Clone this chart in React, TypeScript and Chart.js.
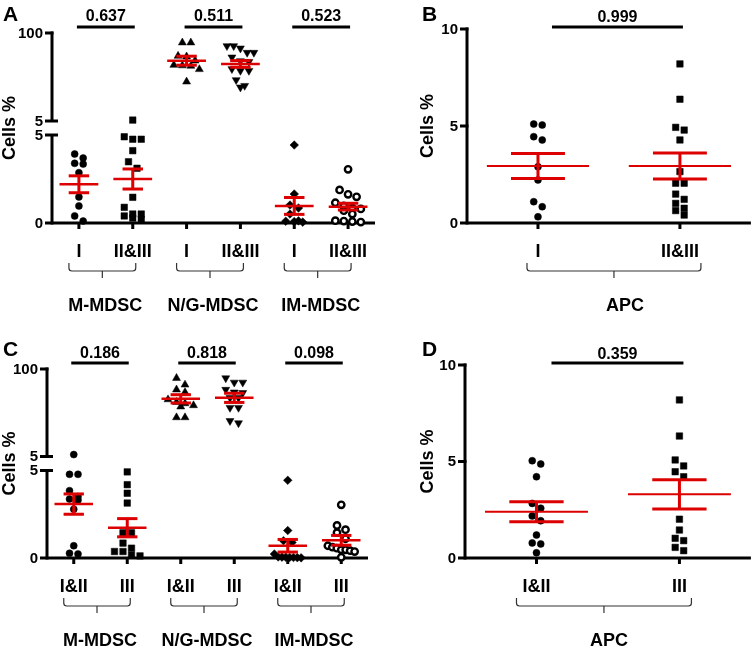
import React, { useEffect, useRef } from 'react';
import { Chart, registerables, LinearScale } from 'chart.js';

const FONT = '"Liberation Sans", Arial, Helvetica, sans-serif';
const RED = '#dd0000';

// ---------------- labels ----------------
const stagesAB = ['I', 'II&III'];
const stagesCD = ['I&II', 'III'];
const mdscSubsets = ['M-MDSC', 'N/G-MDSC', 'IM-MDSC'];
const apcSubsets = ['APC'];
const yTitle = 'Cells %';

const brokenLowerTicks = [0, 5];
const brokenUpperTicks = [5, 100];
const apcTicks = [0, 5, 10];

const mdscMarkers = ['circle', 'square', 'triangle', 'triangleDown', 'diamond', 'ring'];
const apcMarkers = ['circle', 'square'];

// ---------------- Panel A (stage I vs II&III) ----------------
const aMmdscI = [3.92, 3.69, 3.39, 3.35, 2.86, 1.48, 0.97, 0.4, 0.11];
const aMmdscII_III = [6.0, 4.9, 4.76, 4.76, 4.11, 3.48, 3.11, 1.46, 0.89, 0.51, 0.51, 0.4, 0.28, 0.21];
const aNgMdscI = [89.6, 89.6, 75.2, 74.5, 70.1, 65.4, 64.9, 64.4, 60.8, 47.4];
const aNgMdscII_III = [86, 86, 83.5, 78.8, 78.8, 73.8, 69.8, 69.0, 61.2, 59.3, 59.3, 49.3, 43.1, 41.4];
const aImMdscI = [4.43, 1.65, 1.02, 0.85, 0.51, 0.12, 0.1, 0.08, 0.05];
const aImMdscII_III = [3.05, 1.88, 1.63, 1.49, 1.15, 0.97, 0.85, 0.8, 0.7, 0.51, 0.13, 0.11, 0.08, 0.05];
const aMeans = [2.2, 2.5, 70.1, 66.6, 0.97, 0.93];
const aSems = [0.48, 0.57, 4.85, 3.6, 0.48, 0.19];
const aPValues = ['0.637', '0.511', '0.523'];

// ---------------- Panel B (APC, stage I vs II&III) ----------------
const bApcI = [5.1, 5.05, 4.45, 4.28, 2.9, 2.22, 1.1, 0.84, 0.32];
const bApcII_III = [8.2, 6.38, 4.93, 4.79, 4.28, 2.65, 2.05, 2.05, 1.49, 1.22, 1.01, 0.76, 0.64, 0.41];
const bMeans = [2.94, 2.94];
const bSems = [0.645, 0.67];
const bPValues = ['0.999'];

// ---------------- Panel C (stage I&II vs III) ----------------
const cMmdscI_II = [7.1, 4.78, 4.78, 3.85, 3.51, 3.37, 3.31, 2.79, 0.7, 0.27, 0.23];
const cMmdscIII = [4.92, 4.19, 3.7, 3.14, 1.44, 1.44, 0.85, 0.56, 0.37, 0.37, 0.17, 0.12];
const cNgMdscI_II = [90.1, 82.9, 77.6, 74.7, 66.9, 64.0, 62.6, 60.5, 59.1, 47.4, 47.4];
const cNgMdscIII = [90.1, 85.4, 85.4, 77.6, 74.7, 74.1, 68.7, 68.7, 58.0, 58.0, 43.7, 41.3];
const cImMdscI_II = [4.44, 1.57, 0.99, 0.89, 0.23, 0.06, 0.05, 0.04, 0.03, 0.03, 0.02, 0.01];
const cImMdscIII = [3.04, 1.86, 1.62, 1.45, 1.1, 0.7, 0.62, 0.56, 0.47, 0.47, 0.42, 0.37, 0.04];
const cMeans = [3.08, 1.73, 67.6, 68.7, 0.7, 1.01];
const cSems = [0.58, 0.52, 4.5, 5.0, 0.36, 0.28];
const cPValues = ['0.186', '0.818', '0.098'];

// ---------------- Panel D (APC, stage I&II vs III) ----------------
const dApcI_II = [5.04, 4.87, 4.21, 2.83, 2.58, 2.18, 1.93, 1.19, 0.78, 0.73, 0.27];
const dApcIII = [8.19, 6.32, 5.08, 4.77, 4.47, 4.21, 2.01, 1.45, 1.02, 0.9, 0.55, 0.38];
const dMeans = [2.4, 3.3];
const dSems = [0.52, 0.76];
const dPValues = ['0.359'];

// ---------------- broken (segmented) linear scale ----------------
class BrokenScale extends (LinearScale as any) {
  static id = 'brokenLinear';
  static defaults = (LinearScale as any).defaults;
  segHeight() {
    const o: any = this.options;
    return (this.bottom - this.top - o.gap) / 2;
  }
  pixelOnSegment(value: number, upper: boolean) {
    const o: any = this.options;
    const seg = this.segHeight();
    if (!upper) return this.bottom - ((value - this.min) / (o.breakAt - this.min)) * seg;
    return this.top + seg - ((value - o.breakAt) / (this.max - o.breakAt)) * seg;
  }
  getPixelForValue(value: number) {
    const o: any = this.options;
    if (value === null || value === undefined || isNaN(value)) return NaN;
    return this.pixelOnSegment(value, value > o.breakAt);
  }
  getValueForPixel(pixel: number) {
    const o: any = this.options;
    const seg = this.segHeight();
    if (pixel >= this.bottom - seg) return this.min + ((this.bottom - pixel) / seg) * (o.breakAt - this.min);
    return o.breakAt + ((this.top + seg - pixel) / seg) * (this.max - o.breakAt);
  }
}

Chart.register(...registerables);
Chart.register(BrokenScale as any);

// ---------------- panels ----------------
const panels: any[] = [
  {
    letter: 'A', rect: { left: 0, top: 0, width: 395, height: 325 },
    pad: { left: 52, top: 33, right: 20, bottom: 102 },
    stages: stagesAB, groups: mdscSubsets, markers: mdscMarkers,
    series: [aMmdscI, aMmdscII_III, aNgMdscI, aNgMdscII_III, aImMdscI, aImMdscII_III],
    means: aMeans, sems: aSems, pValues: aPValues, broken: true,
    letterX: 3, letterY: 15, titleX: 10, pBarDy: -6, pTextDy: -16, pBarL: -2, pBarR: 2,
    brL: -10, brR: 3, groupDx: 3, meanWidth: 2.5,
  },
  {
    letter: 'B', rect: { left: 400, top: 0, width: 356, height: 325 },
    pad: { left: 67, top: 29, right: 1, bottom: 102 },
    stages: stagesAB, groups: apcSubsets, markers: apcMarkers,
    series: [bApcI, bApcII_III],
    means: bMeans, sems: bSems, pValues: bPValues, broken: false,
    letterX: 22, letterY: 15, titleX: 28, pBarDy: -2, pTextDy: -11, pBarL: 14, pBarR: 3,
    brL: -11, brR: 21, groupDx: 11, meanWidth: 2,
  },
  {
    letter: 'C', rect: { left: 0, top: 330, width: 395, height: 326 },
    pad: { left: 47, top: 39, right: 27, bottom: 98 },
    stages: stagesCD, groups: mdscSubsets, markers: mdscMarkers,
    series: [cMmdscI_II, cMmdscIII, cNgMdscI_II, cNgMdscIII, cImMdscI_II, cImMdscIII],
    means: cMeans, sems: cSems, pValues: cPValues, broken: true,
    letterX: 3, letterY: 20, titleX: 10, pBarDy: -6, pTextDy: -15, pBarL: -2.5, pBarR: 1.5,
    brL: -10, brR: 3, groupDx: 3, meanWidth: 2.5,
  },
  {
    letter: 'D', rect: { left: 400, top: 330, width: 356, height: 326 },
    pad: { left: 65, top: 35, right: 2, bottom: 98 },
    stages: stagesCD, groups: apcSubsets, markers: apcMarkers,
    series: [dApcI_II, dApcIII],
    means: dMeans, sems: dSems, pValues: dPValues, broken: false,
    letterX: 22, letterY: 20, titleX: 28, pBarDy: -2, pTextDy: -10, pBarL: 15, pBarR: 4,
    brL: -20, brR: 12, groupDx: 5, meanWidth: 2,
  },
];

function markerStyle(kind: string) {
  switch (kind) {
    case 'square': return { pointStyle: 'rect', radius: 4.6, rotation: 0, backgroundColor: '#000', borderColor: '#000', borderWidth: 0.5 };
    case 'triangle': return { pointStyle: 'triangle', radius: 4.6, rotation: 0, backgroundColor: '#000', borderColor: '#000', borderWidth: 0.5 };
    case 'triangleDown': return { pointStyle: 'triangle', radius: 4.6, rotation: 180, backgroundColor: '#000', borderColor: '#000', borderWidth: 0.5 };
    case 'diamond': return { pointStyle: 'rectRot', radius: 4.3, rotation: 0, backgroundColor: '#000', borderColor: '#000', borderWidth: 0.5 };
    case 'ring': return { pointStyle: 'circle', radius: 3.2, rotation: 0, backgroundColor: '#fff', borderColor: '#000', borderWidth: 2.4 };
    default: return { pointStyle: 'circle', radius: 3.5, rotation: 0, backgroundColor: '#000', borderColor: '#000', borderWidth: 0.5 };
  }
}

// Beeswarm-like spreading of points that share a row, computed in pixel space
const swarmPlugin = {
  id: 'swarm',
  afterDatasetsUpdate(chart: any) {
    const xs = chart.scales.x;
    const spacing = Math.abs(xs.getPixelForValue(1) - xs.getPixelForValue(0));
    const ROW = 7;
    const STEP = 8.5;
    const maxHalf = spacing * 0.25;
    chart.data.datasets.forEach((_: any, di: number) => {
      const meta = chart.getDatasetMeta(di);
      const pts = meta.data.map((el: any) => ({ el, y: el.y }));
      pts.sort((a: any, b: any) => a.y - b.y);
      const rows: any[] = [];
      let cur: any[] = [];
      for (const p of pts) {
        if (cur.length && p.y - cur[0].y >= ROW) { rows.push(cur); cur = []; }
        cur.push(p);
      }
      if (cur.length) rows.push(cur);
      for (const row of rows) {
        const n = row.length;
        if (n < 2) continue;
        const step = Math.min(STEP, (2 * maxHalf) / (n - 1));
        row.forEach((p: any, k: number) => { p.el.x += (k - (n - 1) / 2) * step; });
      }
    });
  },
};

function makeDeco(p: any) {
  const per = p.stages.length;
  const categories = p.groups.flatMap(() => p.stages);
  return {
    id: 'panelDeco',
    beforeDatasetsDraw(chart: any) {
      const ctx = chart.ctx;
      const xs = chart.scales.x;
      const ys = chart.scales.y;
      const { left, right, top, bottom } = chart.chartArea;
      const n = p.series.length;
      const line = (x0: number, y0: number, x1: number, y1: number) => {
        ctx.beginPath(); ctx.moveTo(x0, y0); ctx.lineTo(x1, y1); ctx.stroke();
      };
      ctx.save();
      ctx.strokeStyle = '#000';
      ctx.fillStyle = '#000';
      ctx.lineWidth = 3;
      ctx.lineCap = 'butt';
      ctx.font = `bold 15px ${FONT}`;
      ctx.textAlign = 'right';
      ctx.textBaseline = 'middle';
      const tickLabel = (v: number, y: number) => ctx.fillText(String(v), left - 9, y + 0.5);

      if (p.broken) {
        const brk = ys.options.breakAt;
        const lowTop = ys.pixelOnSegment(brk, false);
        const upBottom = ys.pixelOnSegment(brk, true);
        line(left, bottom + 1.5, left, lowTop);
        line(left, upBottom, left, ys.pixelOnSegment(ys.max, true) - 1.5);
        brokenLowerTicks.forEach((v) => {
          const y = ys.pixelOnSegment(v, false);
          if (v === brk) line(left - 7, y, left + 6, y);
          else if (v !== 0) line(left - 7, y, left + 1.5, y);
          tickLabel(v, y);
        });
        brokenUpperTicks.forEach((v) => {
          const y = ys.pixelOnSegment(v, true);
          if (v === brk) line(left - 7, y, left + 6, y);
          else line(left - 7, y, left + 1.5, y);
          tickLabel(v, y);
        });
      } else {
        line(left, bottom + 1.5, left, top - 1.5);
        apcTicks.forEach((v) => {
          const y = ys.getPixelForValue(v);
          if (v !== 0) line(left - 7, y, left + 1.5, y);
          tickLabel(v, y);
        });
      }

      // x axis + category ticks
      line(left - 7, bottom, right, bottom);
      for (let i = 0; i < n; i++) {
        const cx = xs.getPixelForValue(i);
        line(cx, bottom, cx, bottom + 6);
      }

      // category labels
      ctx.textAlign = 'center';
      ctx.font = `bold 18px ${FONT}`;
      for (let i = 0; i < n; i++) ctx.fillText(categories[i], xs.getPixelForValue(i), bottom + 29);

      // brackets + group labels
      p.groups.forEach((g: string, gi: number) => {
        const c1 = xs.getPixelForValue(gi * per);
        const c2 = xs.getPixelForValue(gi * per + per - 1);
        const L = c1 + p.brL, R = c2 + p.brR, C = (L + R) / 2;
        const yT = bottom + 40, yH = bottom + 48, yB = bottom + 55, r = 3;
        ctx.lineWidth = 1.2;
        ctx.strokeStyle = '#333';
        ctx.beginPath();
        ctx.moveTo(L, yT);
        ctx.lineTo(L, yH - r);
        ctx.quadraticCurveTo(L, yH, L + r, yH);
        ctx.lineTo(R - r, yH);
        ctx.quadraticCurveTo(R, yH, R, yH - r);
        ctx.lineTo(R, yT);
        ctx.stroke();
        line(C, yH, C, yB);
        ctx.fillStyle = '#000';
        ctx.font = `bold 18px ${FONT}`;
        ctx.fillText(g, C + p.groupDx, bottom + 83);
      });

      // p-value bars
      ctx.strokeStyle = '#000';
      ctx.lineWidth = 3;
      ctx.font = `bold 16px ${FONT}`;
      p.pValues.forEach((pv: string, gi: number) => {
        const c1 = xs.getPixelForValue(gi * per);
        const c2 = xs.getPixelForValue(gi * per + per - 1);
        const x0 = c1 + p.pBarL, x1 = c2 + p.pBarR;
        line(x0, top + p.pBarDy, x1, top + p.pBarDy);
        ctx.fillText(pv, (x0 + x1) / 2, top + p.pTextDy);
      });

      // panel letter
      ctx.textAlign = 'left';
      ctx.font = `bold 21px ${FONT}`;
      ctx.fillText(p.letter, p.letterX, p.letterY);

      // y title
      ctx.save();
      ctx.translate(p.titleX, (top + bottom) / 2);
      ctx.rotate(-Math.PI / 2);
      ctx.textAlign = 'center';
      ctx.font = `bold 18px ${FONT}`;
      ctx.fillText(yTitle, 0, 0);
      ctx.restore();

      ctx.restore();
    },
    afterDatasetsDraw(chart: any) {
      const ctx = chart.ctx;
      const xs = chart.scales.x;
      const ys = chart.scales.y;
      const spacing = Math.abs(xs.getPixelForValue(1) - xs.getPixelForValue(0));
      const meanHalf = spacing * 0.36;
      const capHalf = spacing * 0.19;
      const line = (x0: number, y0: number, x1: number, y1: number) => {
        ctx.beginPath(); ctx.moveTo(x0, y0); ctx.lineTo(x1, y1); ctx.stroke();
      };
      ctx.save();
      ctx.strokeStyle = RED;
      ctx.lineCap = 'butt';
      p.means.forEach((m: number, i: number) => {
        const s = p.sems[i];
        const cx = xs.getPixelForValue(i);
        const ym = ys.getPixelForValue(m);
        const yh = ys.getPixelForValue(m + s);
        const yl = ys.getPixelForValue(m - s);
        ctx.lineWidth = 3;
        line(cx, yh, cx, yl);
        line(cx - capHalf, yh, cx + capHalf, yh);
        line(cx - capHalf, yl, cx + capHalf, yl);
        ctx.lineWidth = p.meanWidth;
        line(cx - meanHalf, ym, cx + meanHalf, ym);
      });
      ctx.restore();
    },
  };
}

function buildConfig(p: any): any {
  const n = p.series.length;
  return {
    type: 'scatter',
    data: {
      datasets: p.series.map((vals: number[], i: number) => {
        const st = markerStyle(p.markers[i]);
        return {
          data: vals.map((v) => ({ x: i, y: v })),
          pointStyle: st.pointStyle,
          pointRadius: st.radius,
          pointRotation: st.rotation,
          pointBackgroundColor: st.backgroundColor,
          pointBorderColor: st.borderColor,
          pointBorderWidth: st.borderWidth,
          showLine: false,
          clip: false,
        };
      }),
    },
    options: {
      responsive: false,
      animation: false,
      devicePixelRatio: 1,
      events: [],
      layout: { padding: p.pad },
      plugins: { legend: { display: false }, tooltip: { enabled: false } },
      scales: {
        x: { type: 'linear', min: -0.5, max: n - 0.5, display: false },
        y: p.broken
          ? { type: 'brokenLinear', min: 0, max: 100, breakAt: 5, gap: 14, display: false }
          : { type: 'linear', min: 0, max: 10, display: false },
      },
    },
    plugins: [swarmPlugin, makeDeco(p)],
  };
}

function Panel({ cfg }: { cfg: any }) {
  const ref = useRef<HTMLCanvasElement | null>(null);
  useEffect(() => {
    if (!ref.current) return;
    const chart = new Chart(ref.current, buildConfig(cfg));
    return () => chart.destroy();
  }, [cfg]);
  return (
    <canvas
      ref={ref}
      width={cfg.rect.width}
      height={cfg.rect.height}
      style={{
        position: 'absolute',
        left: cfg.rect.left,
        top: cfg.rect.top,
        width: cfg.rect.width,
        height: cfg.rect.height,
      }}
    />
  );
}

export default function App() {
  return (
    <div style={{ position: 'absolute', left: 0, top: 0, width: 756, height: 656, background: '#fff' }}>
      {panels.map((p) => (
        <Panel key={p.letter} cfg={p} />
      ))}
    </div>
  );
}
